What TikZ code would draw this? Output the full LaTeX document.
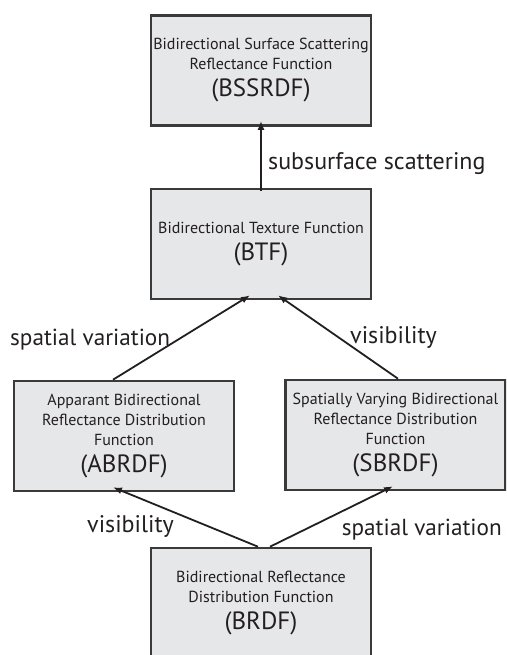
\documentclass[tikz,border=0pt]{standalone}
\usepackage{fontspec}
\setmainfont{PT Sans}
\usetikzlibrary{arrows.meta}
\definecolor{boxfill}{HTML}{E6E7E8}
\definecolor{boxline}{HTML}{3A3A3A}
\definecolor{ink}{HTML}{231F20}
\begin{document}
\begin{tikzpicture}[x=1pt,y=-1pt,
  fbox/.style={draw=boxline,line width=2.6pt,fill=boxfill,minimum width=220pt,minimum height=110pt,
    align=center,inner sep=0pt,text=ink,font=\fontsize{16}{20}\selectfont},
  lbl/.style={text=ink,font=\fontsize{24}{28}\selectfont,inner sep=0pt},
  slbl/.style={lbl,font=\fontsize{23.2}{28}\selectfont},
  arr/.style={draw=ink,line width=1.8pt,-{Latex[length=9pt,width=7pt]}}]
\useasboundingbox (0,0) rectangle (506,655);
\clip (0,0) rectangle (506,655);
\newcommand{\acr}[1]{\\[7pt]{\fontsize{25}{26}\selectfont #1}}
\node[fbox] (bssrdf) at (261,70.5) {Bidirectional Surface Scattering\\Reflectance Function\acr{(BSSRDF)}};
\node[fbox] (btf) at (261,244) {Bidirectional Texture Function\acr{(BTF)}};
\node[fbox] (abrdf) at (124,436) {Apparant Bidirectional\\Reflectance Distribution\\Function\acr{(ABRDF)}};
\node[fbox] (sbrdf) at (395.5,435) {Spatially Varying Bidirectional\\Reflectance Distribution\\Function\acr{(SBRDF)}};
\node[fbox] (brdf) at (261,603) {Bidirectional Reflectance\\Distribution Function\acr{(BRDF)}};
\draw[arr] ([yshift=-3pt]btf.north) -- ([yshift=6pt]bssrdf.south);
\draw[arr] ([xshift=-11pt]abrdf.north) -- ([xshift=-11pt,yshift=5pt]btf.south);
\draw[arr] ([xshift=2.5pt]sbrdf.north) -- ([xshift=17pt,yshift=5pt]btf.south);
\draw[arr] ([xshift=-3pt]brdf.north) -- ([xshift=-11pt,yshift=5pt]abrdf.south);
\draw[arr] ([xshift=9pt]brdf.north) -- ([xshift=-2.5pt,yshift=5pt]sbrdf.south);
\node[lbl,anchor=base west] (l1) at (268,169) {subsurface scattering};
\node[slbl,anchor=base west] (l2) at (10,345) {spatial variation};
\node[lbl,anchor=base west] (l3) at (350,343) {visibility};
\node[lbl,anchor=base west] (l4) at (87,532) {visibility};
\node[slbl,anchor=base east] (l5) at (502,535) {spatial variation};
\end{tikzpicture}
\end{document}
